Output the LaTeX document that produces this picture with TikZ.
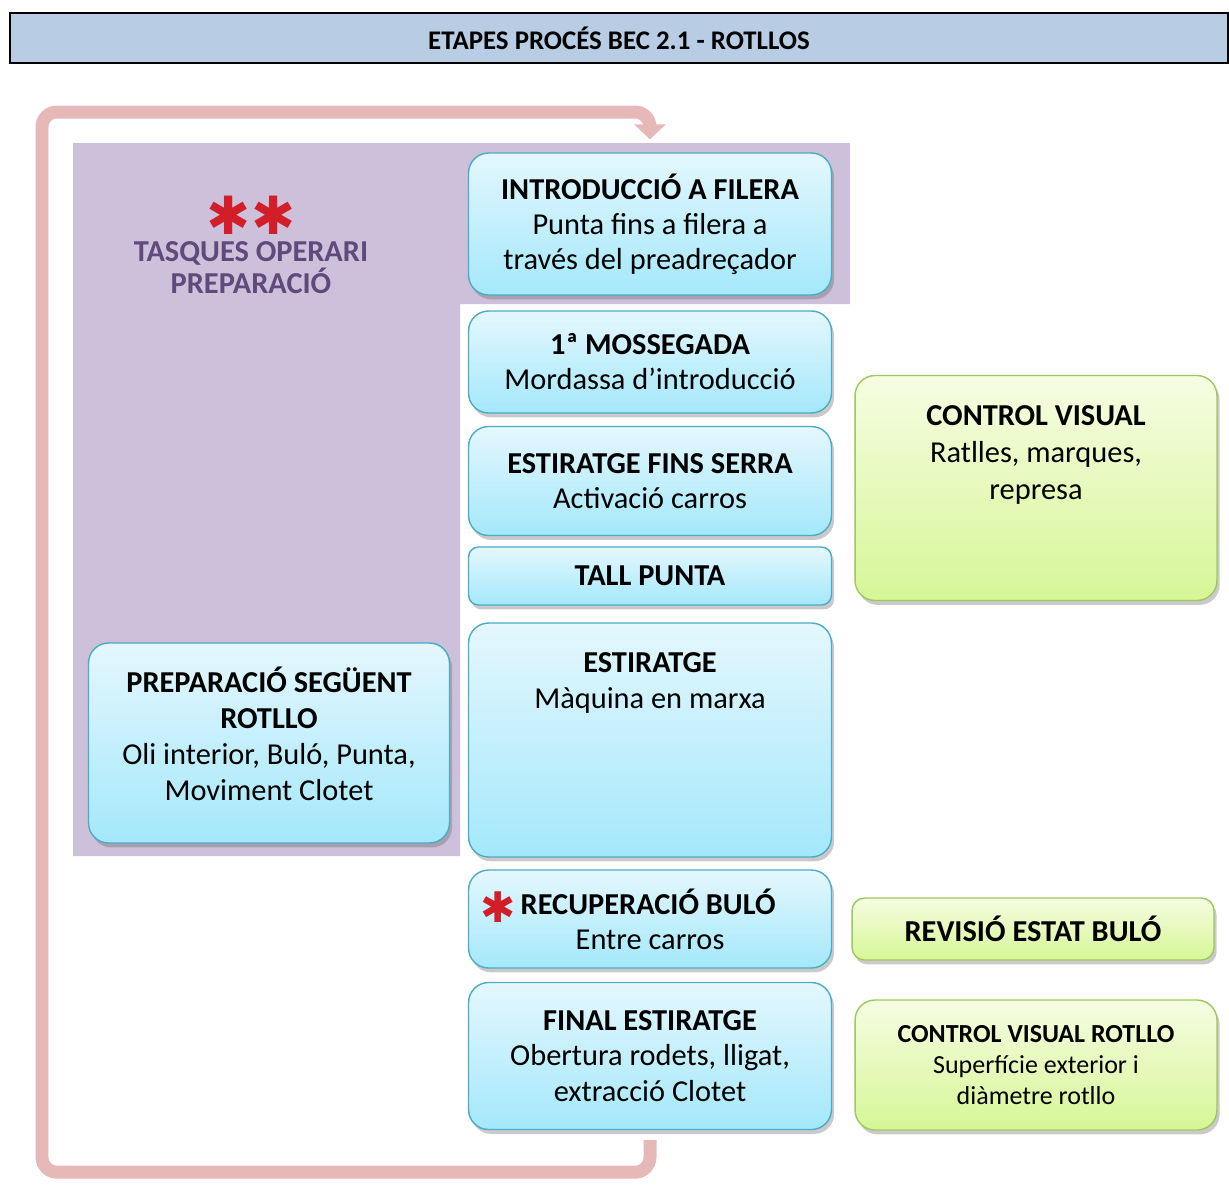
\documentclass[tikz,border=0pt]{standalone}
\usepackage{fontspec}
\setmainfont{Carlito}
\newfontfamily\symfont{DejaVu Sans}
\usepackage{xcolor}
\usepackage{tikz}
\usetikzlibrary{arrows.meta}
\usetikzlibrary{shadows}

\definecolor{headblue}{RGB}{184,204,228}
\definecolor{prepurple}{RGB}{204,192,218}
\definecolor{tasktext}{RGB}{96,74,123}
\definecolor{loopred}{RGB}{230,184,183}
\definecolor{startred}{RGB}{210,30,40}
\definecolor{bluetop}{RGB}{228,247,253}
\definecolor{bluebot}{RGB}{164,232,252}
\definecolor{blueline}{RGB}{75,172,198}
\definecolor{greentop}{RGB}{246,253,226}
\definecolor{greenbot}{RGB}{214,246,150}
\definecolor{greenline}{RGB}{155,200,95}

\tikzset{
  stepshade/.style={rounded corners=0.4cm, line width=0.8pt, align=center,
    font=\fontsize{17.3}{20}\selectfont, inner sep=0pt,
    drop shadow={shadow xshift=1.5pt, shadow yshift=-2.5pt, opacity=0.35, fill=black!60}},
  bluebox/.style={stepshade, draw=blueline, top color=bluetop, bottom color=bluebot},
  greenbox/.style={stepshade, draw=greenline, top color=greentop, bottom color=greenbot},
  boxtext/.style={align=center, font=\fontsize{17.3}{20.5}\selectfont, inner sep=0pt},
  looparrow/.style={draw=loopred, line width=0.26cm, rounded corners=0.3cm,
    -{Triangle[width=0.62cm, length=0.3cm]}},
}
\newcommand{\redstar}[1][26]{{\fontsize{#1}{#1}\symfont\color{startred}\char"2731}}

\begin{document}
\begin{tikzpicture}[x=0.02cm, y=-0.02cm]
  \useasboundingbox (0,0) rectangle (1229,1184);
  % header
  \node[draw=black, line width=1pt, fill=headblue, minimum width=24.36cm,
    minimum height=1cm, font=\fontsize{15.3}{17}\selectfont\bfseries] (header)
    at (619,38) {ETAPES PROCÉS BEC 2.1 - ROTLLOS};
  % operator zone
  \fill[prepurple] (73,143) -- (850,143) -- (850,304) -- (460,304)
    -- (460,856) -- (73,856) -- cycle;
  \node[align=center, text=tasktext, font=\fontsize{17.3}{18.5}\selectfont\bfseries] (tasks)
    at (251,245) {\redstar[30]\redstar[30]\\[-3pt]TASQUES OPERARI\\PREPARACIÓ};

  % process steps
  \node[bluebox, minimum width=7.26cm, minimum height=2.84cm] (intro) at (650,224)
    {\textbf{INTRODUCCIÓ A FILERA}\\Punta fins a filera a\\través del preadreçador};
  \node[bluebox, minimum width=7.26cm, minimum height=2.04cm] (mossegada) at (650,362)
    {\textbf{1ª MOSSEGADA}\\Mordassa d’introducció};
  \node[bluebox, minimum width=7.26cm, minimum height=2.18cm] (fins) at (650,481)
    {\textbf{ESTIRATGE FINS SERRA}\\Activació carros};
  \node[bluebox, rounded corners=0.2cm, minimum width=7.26cm, minimum height=1.16cm]
    (tall) at (650,576) {\textbf{TALL PUNTA}};
  \node[bluebox, minimum width=7.26cm, minimum height=4.68cm] (estiratge) at (650,740) {};
  \node[boxtext, anchor=north] (estiratgetext) at (650,652)
    {\textbf{ESTIRATGE}\\Màquina en marxa};
  \node[bluebox, minimum width=7.26cm, minimum height=1.96cm] (bulo) at (650,919)
    {\textbf{\raisebox{-5pt}{\redstar[24]}\,RECUPERACIÓ BULÓ}\hspace*{0.88cm}\\Entre carros};
  \node[bluebox, minimum width=7.26cm, minimum height=2.94cm] (final) at (650,1056)
    {\textbf{FINAL ESTIRATGE}\\Obertura rodets, lligat,\\extracció Clotet};
  \node[bluebox, minimum width=7.22cm, minimum height=4cm] (seguent) at (269,743) {};
  \node[boxtext] (seguenttext) at (269,734)
    {\textbf{PREPARACIÓ SEGÜENT}\\\textbf{ROTLLO}\\Oli interior, Buló, Punta,\\Moviment Clotet};

  % checks
  \node[greenbox, minimum width=7.24cm, minimum height=4.5cm] (visual) at (1036,488) {};
  \node[boxtext, anchor=north, font=\fontsize{17.3}{21}\selectfont] (visualtext)
    at (1036,405) {\textbf{CONTROL VISUAL}\\Ratlles, marques,\\represa};
  \node[greenbox, rounded corners=0.25cm, minimum width=7.24cm, minimum height=1.24cm]
    (revisio) at (1033,929) {\textbf{REVISIÓ ESTAT BULÓ}};
  \node[greenbox, minimum width=7.24cm, minimum height=2.6cm,
    font=\fontsize{14.8}{17.5}\selectfont] (rotllo) at (1036,1065)
    {\textbf{CONTROL VISUAL ROTLLO}\\Superfície exterior i\\diàmetre rotllo};

  % loop back to start
  \coordinate (loopcorner) at (42,112);
  \draw[looparrow] ([yshift=-0.2cm]final.south) -- ++(0,32) -| (loopcorner)
    -| ([yshift=0.26cm]intro.north);
\end{tikzpicture}
\end{document}
